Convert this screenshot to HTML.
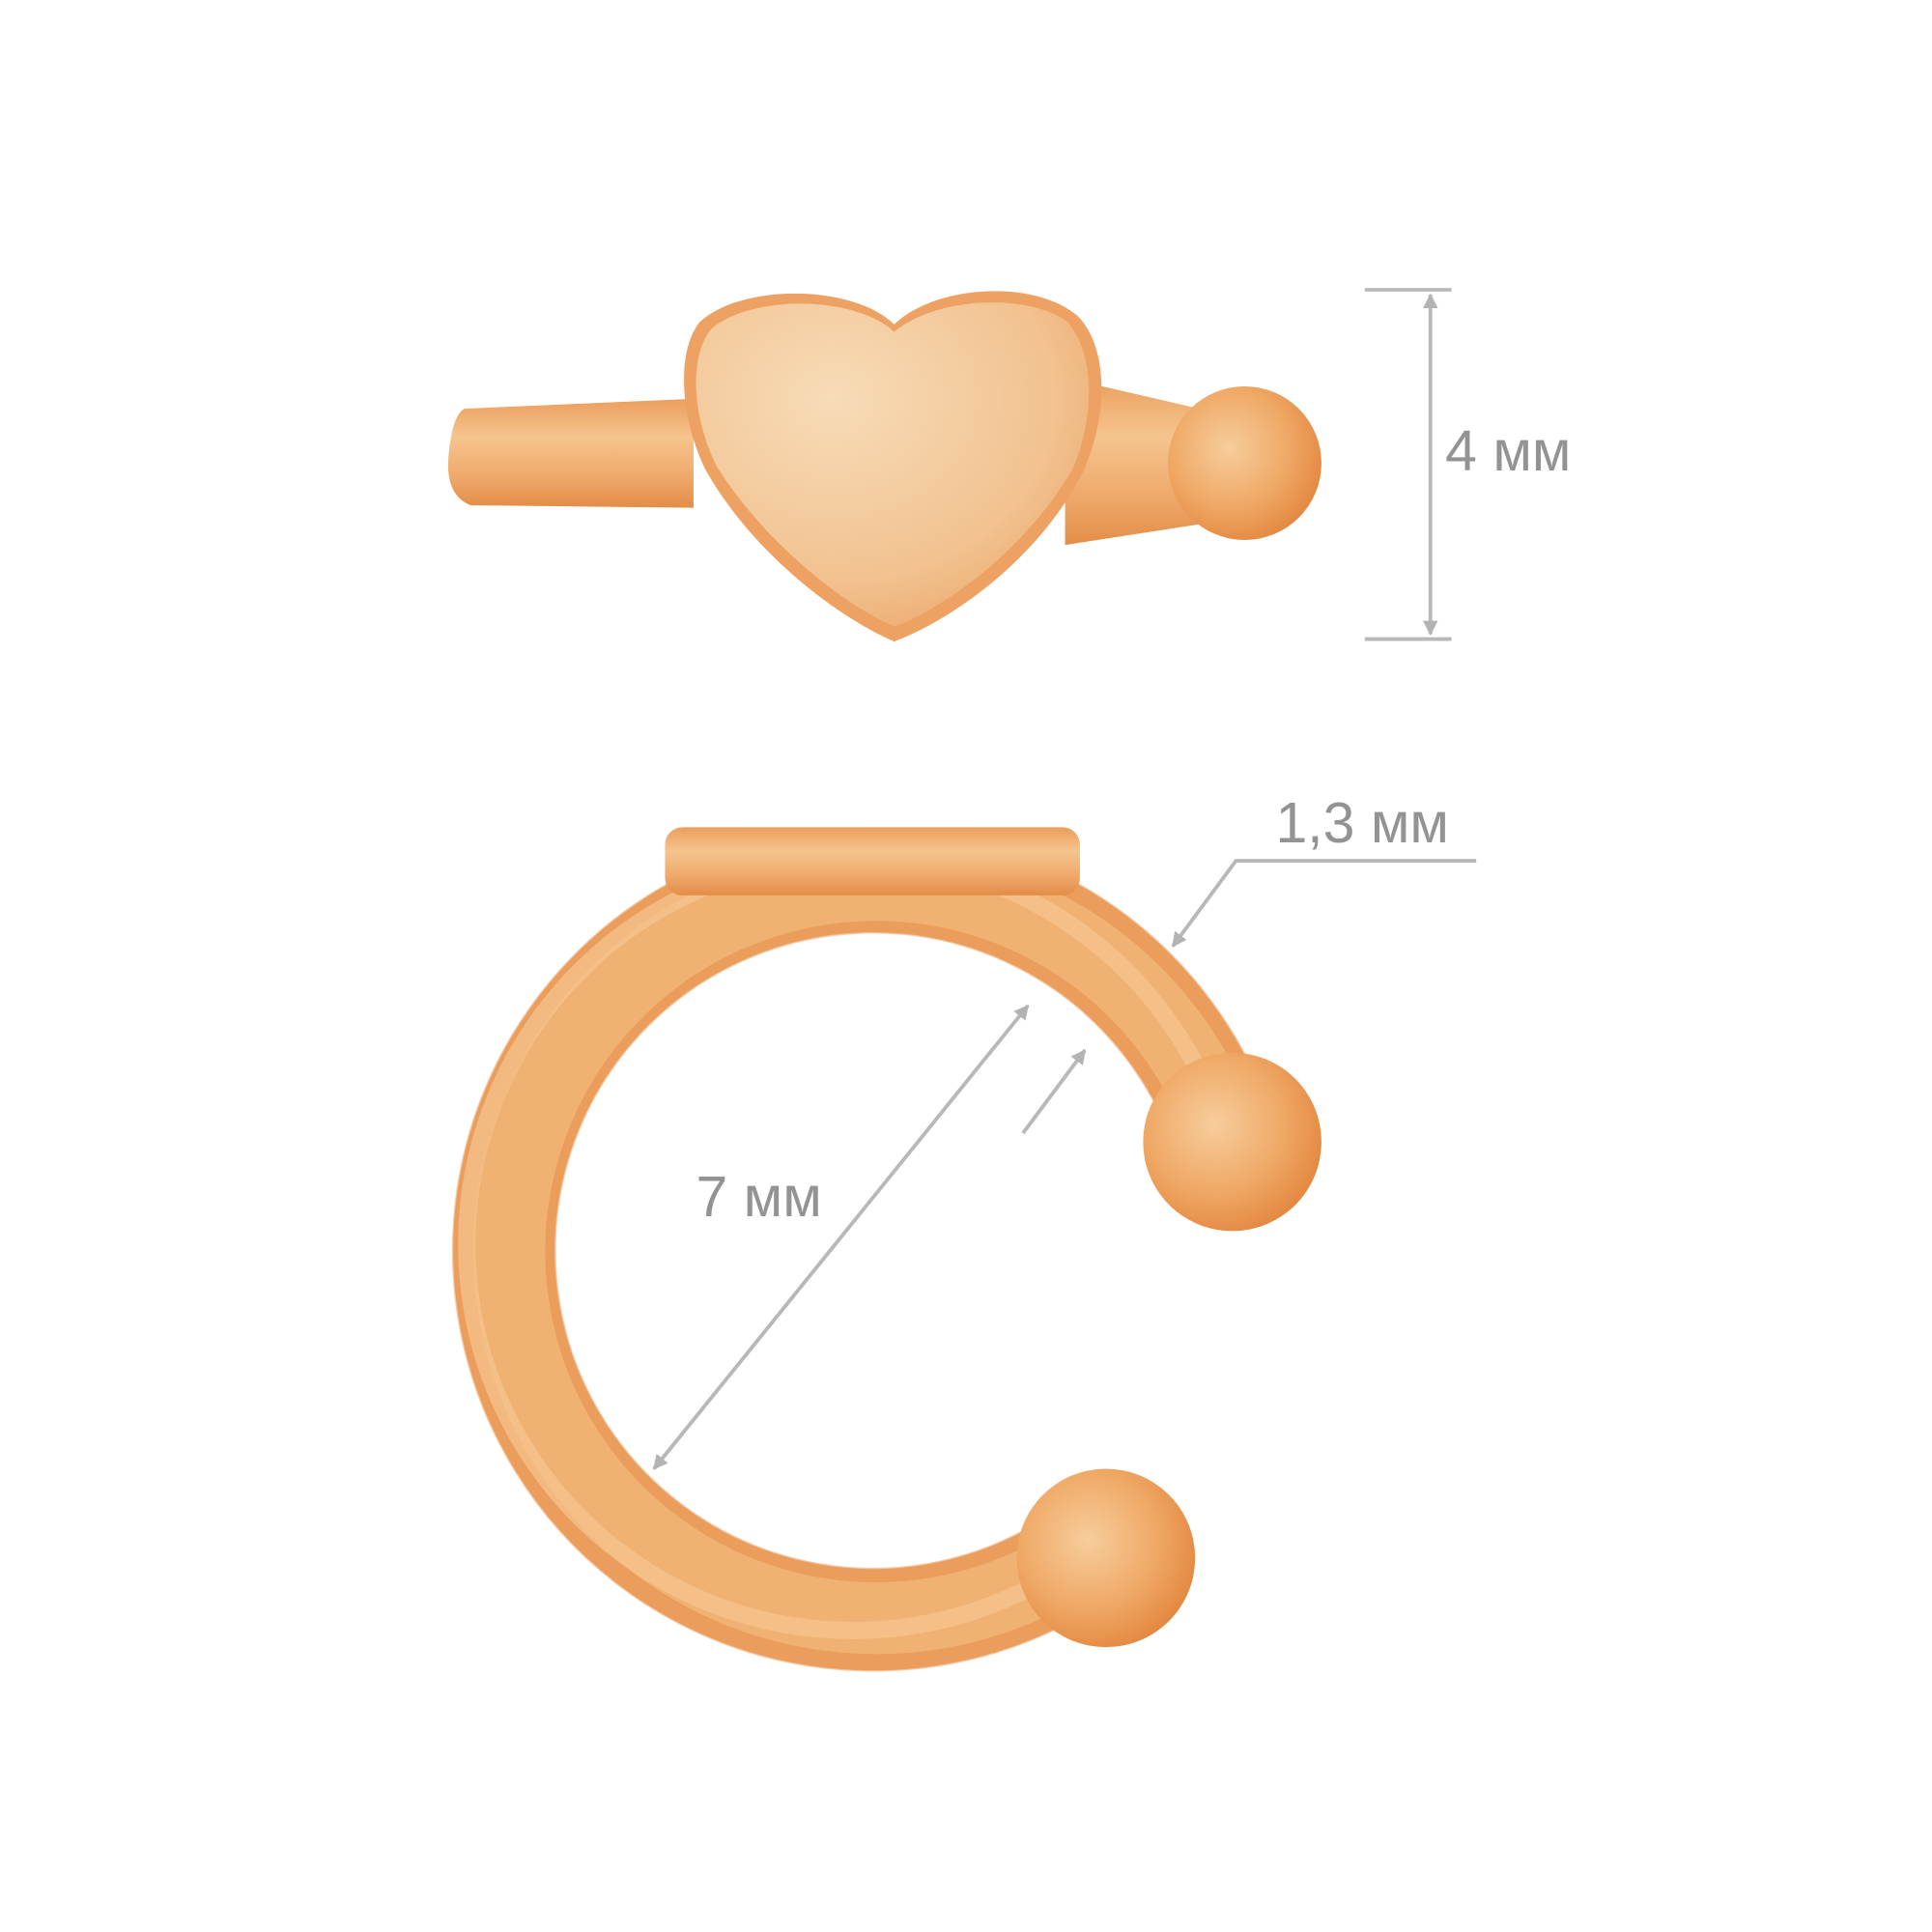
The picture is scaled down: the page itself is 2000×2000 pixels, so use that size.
<!DOCTYPE html>
<html><head><meta charset="utf-8"><style>
html,body{margin:0;padding:0;background:#fff}
svg{display:block}
text{font-family:"Liberation Sans",sans-serif;fill:#939393}
</style></head><body>
<svg width="2000" height="2000" viewBox="0 0 1560 1560" xmlns="http://www.w3.org/2000/svg">
<defs>
<linearGradient id="bar" x1="0" y1="0" x2="0" y2="1">
<stop offset="0" stop-color="#eb9e5c"/><stop offset="0.35" stop-color="#f5c48e"/><stop offset="0.7" stop-color="#efaa6c"/><stop offset="1" stop-color="#e38d47"/></linearGradient>
<radialGradient id="ball" cx="0.4" cy="0.4" r="0.65">
<stop offset="0" stop-color="#f7cd9c"/><stop offset="0.6" stop-color="#efa865"/><stop offset="1" stop-color="#e3873f"/></radialGradient>
<radialGradient id="heart" cx="0.35" cy="0.3" r="0.8">
<stop offset="0" stop-color="#f7dcb7"/><stop offset="0.7" stop-color="#f2c290"/><stop offset="1" stop-color="#eca76b"/></radialGradient>
<marker id="ar" viewBox="0 0 10 10" refX="9" refY="5" markerWidth="4" markerHeight="4" orient="auto-start-reverse">
<path d="M0 0 L10 5 L0 10Z" fill="#b3b3b3"/></marker>
</defs>

<!-- top view -->
<path d="M375 330 L560 322 L560 410 L380 408 Q360 400 362 370 Q365 335 375 330Z" fill="url(#bar)"/>
<path d="M860 305 L990 335 L990 420 L860 440Z" fill="url(#bar)"/>
<circle cx="1005" cy="374" r="62" fill="url(#ball)"/>
<path d="M722 262 C690 230 600 228 565 260 C545 285 550 340 570 380 C610 450 680 500 722 518 C770 500 840 450 875 380 C895 335 895 280 870 255 C835 225 755 230 722 262Z" fill="#eda264"/>
<path d="M722 268 C690 238 605 238 574 266 C555 290 560 340 579 377 C620 442 685 490 722 506 C765 490 830 442 867 377 C884 335 884 285 862 260 C830 236 755 240 722 268Z" fill="url(#heart)"/>

<!-- dimensions -->
<g stroke="#b8b8b8" stroke-width="3" fill="none">
<line x1="1102" y1="234" x2="1172" y2="234"/>
<line x1="1102" y1="516" x2="1172" y2="516"/>
<line x1="1155" y1="238" x2="1155" y2="512" marker-start="url(#ar)" marker-end="url(#ar)"/>
<polyline points="1192,695 998,695 947,764" marker-end="url(#ar)"/>
<line x1="528" y1="1186" x2="830" y2="812" marker-start="url(#ar)" marker-end="url(#ar)"/>
<line x1="826" y1="915" x2="876" y2="848" marker-end="url(#ar)"/>
</g>
<text x="1167" y="380" font-size="46">4 мм</text>
<text x="1030" y="680" font-size="46">1,3 мм</text>
<text x="562" y="982" font-size="46">7 мм</text>

<!-- bottom view C ring -->
<path d="M884 1248 A298 298 0 1 1 990 923" fill="none" stroke="#e8955280" stroke-width="84" stroke-linecap="round"/>
<path d="M884 1248 A298 298 0 1 1 990 923" fill="none" stroke="#eb9d5c" stroke-width="82" stroke-linecap="round"/>
<path d="M884 1248 A296 296 0 1 1 990 923" fill="none" stroke="#f0b273" stroke-width="58" stroke-linecap="round"/>
<path d="M884 1248 A312 312 0 1 1 990 923" fill="none" stroke="#f5c690" stroke-width="14" opacity="0.7"/>
<rect x="537" y="668" width="335" height="55" rx="14" fill="url(#bar)"/>
<circle cx="995" cy="922" r="72" fill="url(#ball)"/>
<circle cx="893" cy="1258" r="72" fill="url(#ball)"/>
</svg>
</body></html>
